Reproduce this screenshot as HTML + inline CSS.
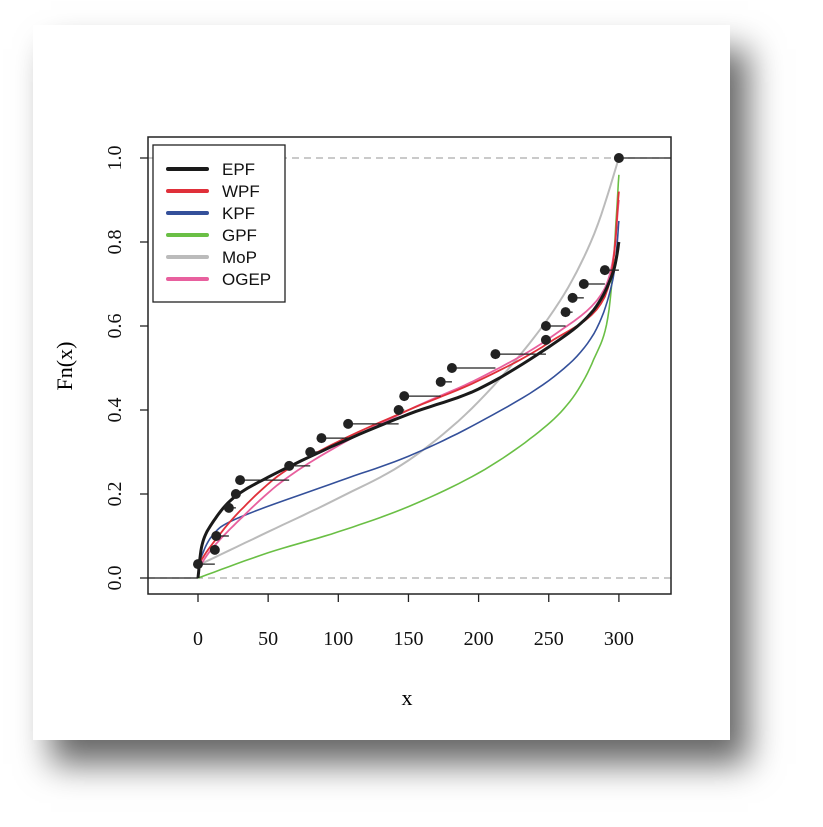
<!DOCTYPE html>
<html><head><meta charset="utf-8"><style>
html,body{margin:0;padding:0;background:#fff;}
#card{position:absolute;left:33px;top:25px;width:697px;height:715px;background:#fff;box-shadow:18px 24px 32px rgba(0,0,0,0.6);}
svg{position:absolute;left:0;top:0;}
</style></head><body>
<div id="card"></div>
<svg id="s" width="823" height="827" xmlns="http://www.w3.org/2000/svg" font-family="Liberation Serif, serif">
<g id="curves" fill="none"></g>
<g id="steps" stroke="#222" stroke-width="1.3"></g>
<rect x="148" y="137" width="523" height="457" fill="none" stroke="#222" stroke-width="1.5"/>
<g stroke="#222" stroke-width="1.3" id="ticks"></g>
<g font-size="20" fill="#111" text-anchor="middle" id="labels"></g>
<text x="407" y="705" font-size="22" text-anchor="middle">x</text>
<text transform="translate(72,366) rotate(-90)" font-size="22" text-anchor="middle">Fn(x)</text>
<rect x="153" y="145" width="132" height="157" fill="#fff" stroke="#222" stroke-width="1.3"/>
<g font-family="Liberation Sans, sans-serif" font-size="17" fill="#111" id="leg"></g>
</svg>
<script>
const X=v=>198+1.403*v, Y=p=>578-420*p, NS="http://www.w3.org/2000/svg";
function el(t,a,p){const e=document.createElementNS(NS,t);for(const k in a)e.setAttribute(k,a[k]);(p||document.getElementById('s')).appendChild(e);return e;}
const C=document.getElementById('curves');
el('line',{x1:148,y1:Y(0),x2:671,y2:Y(0),stroke:'#aaa','stroke-dasharray':'7,5','stroke-width':1.2},C);
el('line',{x1:148,y1:Y(1),x2:671,y2:Y(1),stroke:'#aaa','stroke-dasharray':'7,5','stroke-width':1.2},C);
function cr(pts){let d='M'+X(pts[0][0])+','+Y(pts[0][1]);for(let i=0;i<pts.length-1;i++){const p0=pts[Math.max(0,i-1)],p1=pts[i],p2=pts[i+1],p3=pts[Math.min(pts.length-1,i+2)];
for(let t=0.1;t<=1.001;t+=0.1){const t2=t*t,t3=t2*t;const f=(a,b,c,d)=>0.5*((2*b)+(-a+c)*t+(2*a-5*b+4*c-d)*t2+(-a+3*b-3*c+d)*t3);
d+=' L'+X(f(p0[0],p1[0],p2[0],p3[0])).toFixed(1)+','+Y(f(p0[1],p1[1],p2[1],p3[1])).toFixed(1);}}return d;}
const series=[
['#bbb',2,[[0,0.03],[50,0.11],[100,0.19],[150,0.28],[200,0.42],[250,0.62],[280,0.8],[300,1.0]]],
['#6abf45',1.6,[[0,0],[50,0.06],[100,0.11],[150,0.17],[200,0.25],[240,0.34],[265,0.42],[282,0.52],[293,0.64],[300,0.96]]],
['#34509a',1.6,[[0,0.03],[10,0.1],[30,0.145],[100,0.23],[150,0.29],[200,0.37],[250,0.47],[280,0.57],[295,0.7],[300,0.85]]],
['#e8609e',1.8,[[0,0.02],[10,0.07],[30,0.14],[60,0.23],[100,0.315],[150,0.4],[200,0.475],[250,0.57],[290,0.69],[300,0.9]]],
['#e0303a',1.8,[[0,0.03],[10,0.08],[30,0.16],[60,0.25],[100,0.325],[150,0.4],[200,0.47],[250,0.56],[290,0.67],[300,0.92]]],
['#1a1a1a',3,[[0,0],[3,0.08],[10,0.13],[25,0.19],[50,0.24],[100,0.32],[150,0.39],[200,0.45],[250,0.55],[280,0.63],[295,0.72],[300,0.8]]]];
series.forEach(s=>el('path',{d:cr(s[2]),stroke:s[0],'stroke-width':s[1]},C));
const pts=[[0,0.033],[12,0.067],[13,0.1],[22,0.167],[27,0.2],[30,0.233],[65,0.267],[80,0.3],[88,0.333],[107,0.367],[143,0.4],[147,0.433],[173,0.467],[181,0.5],[212,0.533],[248,0.567],[248,0.6],[262,0.633],[267,0.667],[275,0.7],[290,0.733],[300,1.0]];
const S=document.getElementById('steps');
el('line',{x1:148,y1:Y(0),x2:X(0),y2:Y(0)},S);
for(let i=0;i<pts.length;i++){const last=i===pts.length-1;const x2=last?671:X(pts[i+1][0]);
el('line',{x1:X(pts[i][0]),y1:Y(pts[i][1]),x2:x2,y2:Y(pts[i][1])},S);
el('circle',{cx:X(pts[i][0]),cy:Y(pts[i][1]),r:5,fill:'#222',stroke:'none'},S);}
const T=document.getElementById('ticks'),L=document.getElementById('labels');
[0,50,100,150,200,250,300].forEach(v=>{el('line',{x1:X(v),y1:594,x2:X(v),y2:602},T);const t=el('text',{x:X(v),y:645},L);t.textContent=v;});
[0,0.2,0.4,0.6,0.8,1.0].forEach(p=>{el('line',{x1:140,y1:Y(p),x2:148,y2:Y(p)},T);const t=el('text',{x:115,y:Y(p),transform:`rotate(-90,115,${Y(p)})`},L);t.setAttribute('dy','6');t.textContent=p.toFixed(1);});
const G=document.getElementById('leg');
[['EPF','#1a1a1a'],['WPF','#e0303a'],['KPF','#34509a'],['GPF','#6abf45'],['MoP','#bbb'],['OGEP','#e8609e']].forEach((l,i)=>{const y=169+i*22;
el('line',{x1:168,y1:y,x2:207,y2:y,stroke:l[1],'stroke-width':4,'stroke-linecap':'round'},G);const t=el('text',{x:222,y:y+6},G);t.textContent=l[0];});
</script>
</body></html>
